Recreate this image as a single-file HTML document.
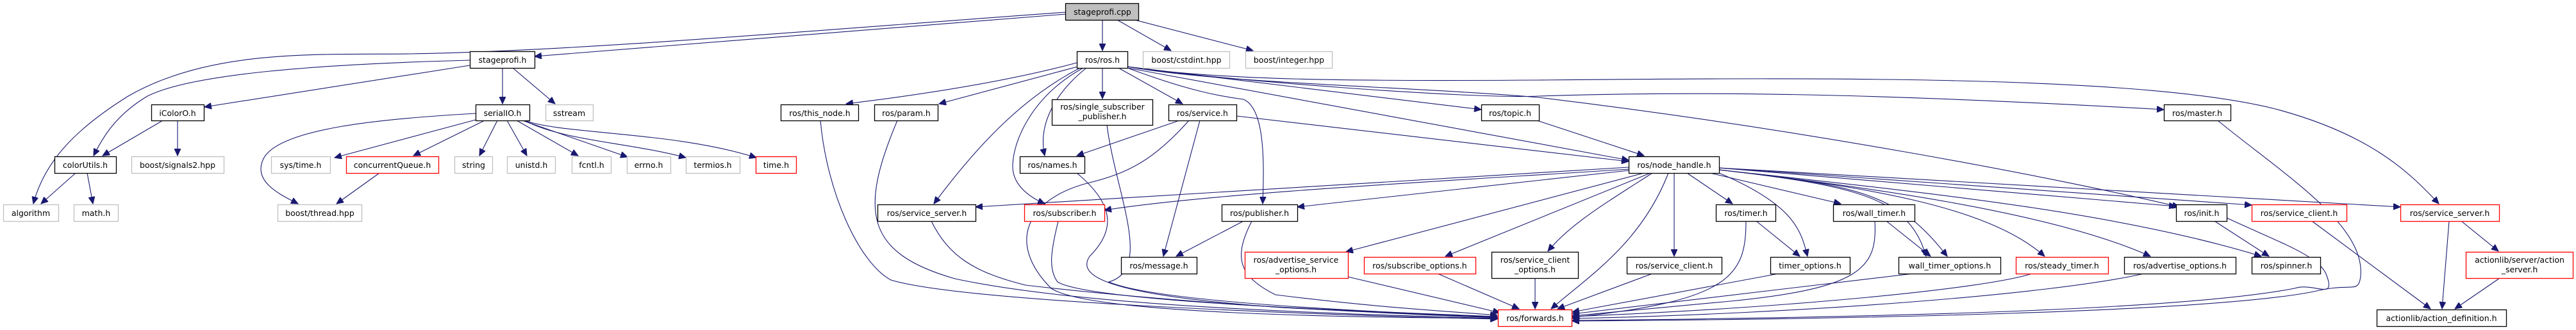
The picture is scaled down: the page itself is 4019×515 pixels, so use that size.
<!DOCTYPE html>
<html><head><meta charset="utf-8"><style>
html,body{margin:0;padding:0;background:#fff;}
svg{display:block;}
text{font-family:"DejaVu Sans","Liberation Sans",sans-serif;font-size:12.5px;fill:#000;text-anchor:middle;}
.n rect{fill:#fff;stroke:#000;stroke-width:1.3;}
.g rect{fill:#fff;stroke:#bfbfbf;stroke-width:1.3;}
.r rect{fill:#fff;stroke:#ff0000;stroke-width:1.3;}
.e path{fill:none;stroke:#191970;stroke-width:1.1;}
</style></head><body>
<svg width="4019" height="515" viewBox="0 0 4019 515" xmlns="http://www.w3.org/2000/svg">
<defs><marker id="a" markerUnits="userSpaceOnUse" markerWidth="12" markerHeight="10" refX="11" refY="5" orient="auto"><path d="M0,0 L11,5 L0,10 z" fill="#191970" stroke="#191970"/></marker></defs>
<g class="e">
<path d="M1663,22 L834,88" marker-end="url(#a)"/>
<path d="M1663,19 C1300,45 900,80 640,84 C500,86 330,75 200,150 C120,200 70,250 52,318" marker-end="url(#a)"/>
<path d="M1720,31 L1720,79" marker-end="url(#a)"/>
<path d="M1743,31 L1827,79" marker-end="url(#a)"/>
<path d="M1770,31 L1955,79" marker-end="url(#a)"/>
<path d="M733,94 C500,100 300,115 230,150 C180,180 160,215 146,243" marker-end="url(#a)"/>
<path d="M733,102 L319,167" marker-end="url(#a)"/>
<path d="M784,106 L784,162" marker-end="url(#a)"/>
<path d="M800,106 L866,162" marker-end="url(#a)"/>
<path d="M254,188 L160,243" marker-end="url(#a)"/>
<path d="M277,188 L277,243" marker-end="url(#a)"/>
<path d="M118,270 L64,318" marker-end="url(#a)"/>
<path d="M136,270 L145,318" marker-end="url(#a)"/>
<path d="M742,177 C600,185 430,200 410,250 C395,285 440,305 465,318" marker-end="url(#a)"/>
<path d="M742,187 L522,246" marker-end="url(#a)"/>
<path d="M756,188 L645,243" marker-end="url(#a)"/>
<path d="M776,188 L748,243" marker-end="url(#a)"/>
<path d="M791,188 L822,243" marker-end="url(#a)"/>
<path d="M806,188 L902,243" marker-end="url(#a)"/>
<path d="M815,188 L979,245" marker-end="url(#a)"/>
<path d="M818,188 C880,220 980,222 1070,246" marker-end="url(#a)"/>
<path d="M818,188 C880,210 1050,205 1180,246" marker-end="url(#a)"/>
<path d="M592,270 L525,318" marker-end="url(#a)"/>
<path d="M1680,98 C1560,130 1420,150 1320,162" marker-end="url(#a)"/>
<path d="M1685,103 L1465,162" marker-end="url(#a)"/>
<path d="M1685,106 C1600,150 1530,220 1457,318" marker-end="url(#a)"/>
<path d="M1690,106 C1610,150 1580,220 1580,260 C1580,285 1600,305 1630,318" marker-end="url(#a)"/>
<path d="M1695,106 C1640,150 1620,200 1630,243" marker-end="url(#a)"/>
<path d="M1720,106 L1720,154" marker-end="url(#a)"/>
<path d="M1745,106 L1845,162" marker-end="url(#a)"/>
<path d="M1759,106 C1850,140 1900,150 1940,155 C1975,170 1972,260 1970,318" marker-end="url(#a)"/>
<path d="M1759,104 L2311,171" marker-end="url(#a)"/>
<path d="M1759,106 L2541,250" marker-end="url(#a)"/>
<path d="M1759,104 C1900,125 2300,155 2400,150 C2700,140 3000,150 3376,171" marker-end="url(#a)"/>
<path d="M1759,104 C1900,130 2200,135 2400,152 C2800,200 3200,275 3400,323" marker-end="url(#a)"/>
<path d="M1759,104 C1900,125 2100,127 2400,125 C2900,120 3350,120 3550,170 C3700,210 3760,270 3805,318" marker-end="url(#a)"/>
<path d="M1840,188 L1680,243" marker-end="url(#a)"/>
<path d="M1872,188 L1815,400" marker-end="url(#a)"/>
<path d="M1855,188 C1800,250 1760,270 1700,285 C1600,310 1570,380 1640,450 C1700,490 2100,495 2336,497" marker-end="url(#a)"/>
<path d="M1929,181 L2541,252" marker-end="url(#a)"/>
<path d="M1280,188 C1290,300 1340,410 1390,437 C1500,470 2000,490 2336,498" marker-end="url(#a)"/>
<path d="M1400,188 C1340,330 1350,395 1490,435 C1700,480 2100,490 2336,497" marker-end="url(#a)"/>
<path d="M1727,195 C1740,300 1800,420 1730,440 C1800,470 2100,485 2336,495" marker-end="url(#a)"/>
<path d="M1680,270 C1740,320 1740,360 1700,400 C1680,430 1720,460 2000,480 C2200,490 2336,495 2336,495" marker-end="url(#a)"/>
<path d="M1453,345 C1480,400 1520,425 1600,445 C1900,480 2200,490 2336,496" marker-end="url(#a)"/>
<path d="M1651,345 C1640,390 1635,420 1650,440 C1700,470 2100,485 2336,494" marker-end="url(#a)"/>
<path d="M1953,345 C1925,400 1930,430 1990,460 C2150,480 2250,485 2336,492" marker-end="url(#a)"/>
<path d="M1940,345 L1835,400" marker-end="url(#a)"/>
<path d="M2103,432 L2340,488" marker-end="url(#a)"/>
<path d="M2398,188 L2565,243" marker-end="url(#a)"/>
<path d="M2541,261 L1522,323" marker-end="url(#a)"/>
<path d="M2541,264 C2300,280 1900,300 1723,328" marker-end="url(#a)"/>
<path d="M2541,266 L2024,323" marker-end="url(#a)"/>
<path d="M2565,270 L2100,393" marker-end="url(#a)"/>
<path d="M2575,270 L2255,400" marker-end="url(#a)"/>
<path d="M2578,270 C2500,320 2450,350 2415,392" marker-end="url(#a)"/>
<path d="M2603,270 C2560,380 2480,430 2420,482" marker-end="url(#a)"/>
<path d="M2612,270 L2612,400" marker-end="url(#a)"/>
<path d="M2632,270 L2703,318" marker-end="url(#a)"/>
<path d="M2682,270 C2800,320 2810,360 2820,400" marker-end="url(#a)"/>
<path d="M2668,270 L2872,318" marker-end="url(#a)"/>
<path d="M2682,265 C2900,290 2980,310 3005,400" marker-end="url(#a)"/>
<path d="M2682,265 C2900,290 2960,300 3038,400" marker-end="url(#a)"/>
<path d="M2682,265 C2900,290 3100,320 3190,400" marker-end="url(#a)"/>
<path d="M2682,265 C2900,290 3200,330 3355,400" marker-end="url(#a)"/>
<path d="M2682,265 C3000,300 3300,330 3528,400" marker-end="url(#a)"/>
<path d="M2682,262 L3395,322" marker-end="url(#a)"/>
<path d="M2682,262 L3513,320" marker-end="url(#a)"/>
<path d="M2682,262 L3745,323" marker-end="url(#a)"/>
<path d="M2943,345 L3012,400" marker-end="url(#a)"/>
<path d="M2925,345 C2930,420 2900,450 2700,470 C2600,480 2500,488 2453,493" marker-end="url(#a)"/>
<path d="M2740,345 L2808,400" marker-end="url(#a)"/>
<path d="M2724,345 C2724,430 2700,470 2453,495" marker-end="url(#a)"/>
<path d="M2578,427 L2430,482" marker-end="url(#a)"/>
<path d="M2243,427 L2370,482" marker-end="url(#a)"/>
<path d="M2395,434 L2395,482" marker-end="url(#a)"/>
<path d="M2775,427 L2453,487" marker-end="url(#a)"/>
<path d="M2985,427 L2453,490" marker-end="url(#a)"/>
<path d="M3170,427 C3100,450 2800,480 2453,494" marker-end="url(#a)"/>
<path d="M3345,427 C3200,460 2800,490 2453,497" marker-end="url(#a)"/>
<path d="M3455,345 L3540,400" marker-end="url(#a)"/>
<path d="M3474,340 C3560,380 3620,400 3630,430 C3645,470 3610,440 3580,450 C3400,485 2900,496 2453,500" marker-end="url(#a)"/>
<path d="M3460,188 C3560,270 3690,350 3683,430 C3680,460 3670,440 3610,455 C3450,487 2900,498 2453,501" marker-end="url(#a)"/>
<path d="M3607,345 L3792,482" marker-end="url(#a)"/>
<path d="M3821,345 L3810,482" marker-end="url(#a)"/>
<path d="M3840,345 L3898,392" marker-end="url(#a)"/>
<path d="M3900,434 L3830,482" marker-end="url(#a)"/>
</g>
<g class="n"><rect x="1662.5" y="5.5" width="114" height="26" style="fill:#bfbfbf"/><text x="1720" y="23">stageprofi.cpp</text></g>
<g class="n"><rect x="733.5" y="80.5" width="101" height="26"/><text x="784" y="98">stageprofi.h</text></g>
<g class="n"><rect x="236.5" y="163.5" width="82" height="25"/><text x="277" y="181">iColorO.h</text></g>
<g class="n"><rect x="742.5" y="163.5" width="84" height="25"/><text x="784" y="181">serialIO.h</text></g>
<g class="g"><rect x="851.5" y="163.5" width="74" height="25"/><text x="888" y="181">sstream</text></g>
<g class="n"><rect x="85.5" y="244.5" width="96" height="26"/><text x="133" y="262">colorUtils.h</text></g>
<g class="g"><rect x="205.5" y="244.5" width="144" height="26"/><text x="277" y="262">boost/signals2.hpp</text></g>
<g class="g"><rect x="423.5" y="244.5" width="92" height="26"/><text x="469" y="262">sys/time.h</text></g>
<g class="r"><rect x="540.5" y="244.5" width="144" height="26"/><text x="612" y="262">concurrentQueue.h</text></g>
<g class="g"><rect x="709.5" y="244.5" width="59" height="26"/><text x="739" y="262">string</text></g>
<g class="g"><rect x="791.5" y="244.5" width="75" height="26"/><text x="829" y="262">unistd.h</text></g>
<g class="g"><rect x="892.5" y="244.5" width="61" height="26"/><text x="923" y="262">fcntl.h</text></g>
<g class="g"><rect x="978.5" y="244.5" width="68" height="26"/><text x="1012" y="262">errno.h</text></g>
<g class="g"><rect x="1070.5" y="244.5" width="84" height="26"/><text x="1112" y="262">termios.h</text></g>
<g class="r"><rect x="1179.5" y="244.5" width="63" height="26"/><text x="1211" y="262">time.h</text></g>
<g class="g"><rect x="5.5" y="319.5" width="86" height="26"/><text x="48" y="337">algorithm</text></g>
<g class="g"><rect x="115.5" y="319.5" width="69" height="26"/><text x="150" y="337">math.h</text></g>
<g class="g"><rect x="433.5" y="319.5" width="131" height="26"/><text x="499" y="337">boost/thread.hpp</text></g>
<g class="n"><rect x="1680.5" y="80.5" width="79" height="26"/><text x="1720" y="98">ros/ros.h</text></g>
<g class="g"><rect x="1783.5" y="80.5" width="135" height="26"/><text x="1851" y="98">boost/cstdint.hpp</text></g>
<g class="g"><rect x="1943.5" y="80.5" width="135" height="26"/><text x="2011" y="98">boost/integer.hpp</text></g>
<g class="n"><rect x="1218.5" y="163.5" width="121" height="25"/><text x="1279" y="181">ros/this_node.h</text></g>
<g class="n"><rect x="1364.5" y="163.5" width="99" height="25"/><text x="1414" y="181">ros/param.h</text></g>
<g class="n"><rect x="1641.5" y="155.5" width="157" height="40"/><text x="1720" y="171">ros/single_subscriber</text><text x="1720" y="186">_publisher.h</text></g>
<g class="n"><rect x="1823.5" y="163.5" width="106" height="25"/><text x="1876" y="181">ros/service.h</text></g>
<g class="n"><rect x="2311.5" y="163.5" width="90" height="25"/><text x="2356" y="181">ros/topic.h</text></g>
<g class="n"><rect x="3376.5" y="163.5" width="104" height="25"/><text x="3428" y="181">ros/master.h</text></g>
<g class="n"><rect x="1591.5" y="244.5" width="101" height="26"/><text x="1642" y="262">ros/names.h</text></g>
<g class="n"><rect x="2541.5" y="244.5" width="141" height="26"/><text x="2612" y="262">ros/node_handle.h</text></g>
<g class="n"><rect x="1369.5" y="319.5" width="153" height="26"/><text x="1446" y="337">ros/service_server.h</text></g>
<g class="r"><rect x="1598.5" y="319.5" width="125" height="26"/><text x="1661" y="337">ros/subscriber.h</text></g>
<g class="n"><rect x="1906.5" y="319.5" width="118" height="26"/><text x="1965" y="337">ros/publisher.h</text></g>
<g class="n"><rect x="2677.5" y="319.5" width="93" height="26"/><text x="2724" y="337">ros/timer.h</text></g>
<g class="n"><rect x="2860.5" y="319.5" width="127" height="26"/><text x="2924" y="337">ros/wall_timer.h</text></g>
<g class="n"><rect x="3395.5" y="319.5" width="79" height="26"/><text x="3435" y="337">ros/init.h</text></g>
<g class="r"><rect x="3513.5" y="319.5" width="148" height="26"/><text x="3587" y="337">ros/service_client.h</text></g>
<g class="r"><rect x="3745.5" y="319.5" width="154" height="26"/><text x="3822" y="337">ros/service_server.h</text></g>
<g class="n"><rect x="1749.5" y="401.5" width="118" height="26"/><text x="1808" y="419">ros/message.h</text></g>
<g class="r"><rect x="1942.5" y="393.5" width="161" height="41"/><text x="2022" y="410">ros/advertise_service</text><text x="2022" y="425">_options.h</text></g>
<g class="r"><rect x="2128.5" y="401.5" width="174" height="26"/><text x="2215" y="419">ros/subscribe_options.h</text></g>
<g class="n"><rect x="2327.5" y="393.5" width="135" height="41"/><text x="2395" y="410">ros/service_client</text><text x="2395" y="425">_options.h</text></g>
<g class="n"><rect x="2538.5" y="401.5" width="148" height="26"/><text x="2612" y="419">ros/service_client.h</text></g>
<g class="n"><rect x="2762.5" y="401.5" width="124" height="26"/><text x="2824" y="419">timer_options.h</text></g>
<g class="n"><rect x="2962.5" y="401.5" width="159" height="26"/><text x="3042" y="419">wall_timer_options.h</text></g>
<g class="r"><rect x="3145.5" y="401.5" width="144" height="26"/><text x="3217" y="419">ros/steady_timer.h</text></g>
<g class="n"><rect x="3314.5" y="401.5" width="174" height="26"/><text x="3401" y="419">ros/advertise_options.h</text></g>
<g class="n"><rect x="3513.5" y="401.5" width="107" height="26"/><text x="3567" y="419">ros/spinner.h</text></g>
<g class="r"><rect x="3847.5" y="393.5" width="167" height="41"/><text x="3931" y="410">actionlib/server/action</text><text x="3931" y="425">_server.h</text></g>
<g class="r"><rect x="2337.5" y="483.5" width="115" height="26"/><text x="2395" y="501">ros/forwards.h</text></g>
<g class="n"><rect x="3708.5" y="483.5" width="202" height="26"/><text x="3809" y="501">actionlib/action_definition.h</text></g>
</svg>
</body></html>
